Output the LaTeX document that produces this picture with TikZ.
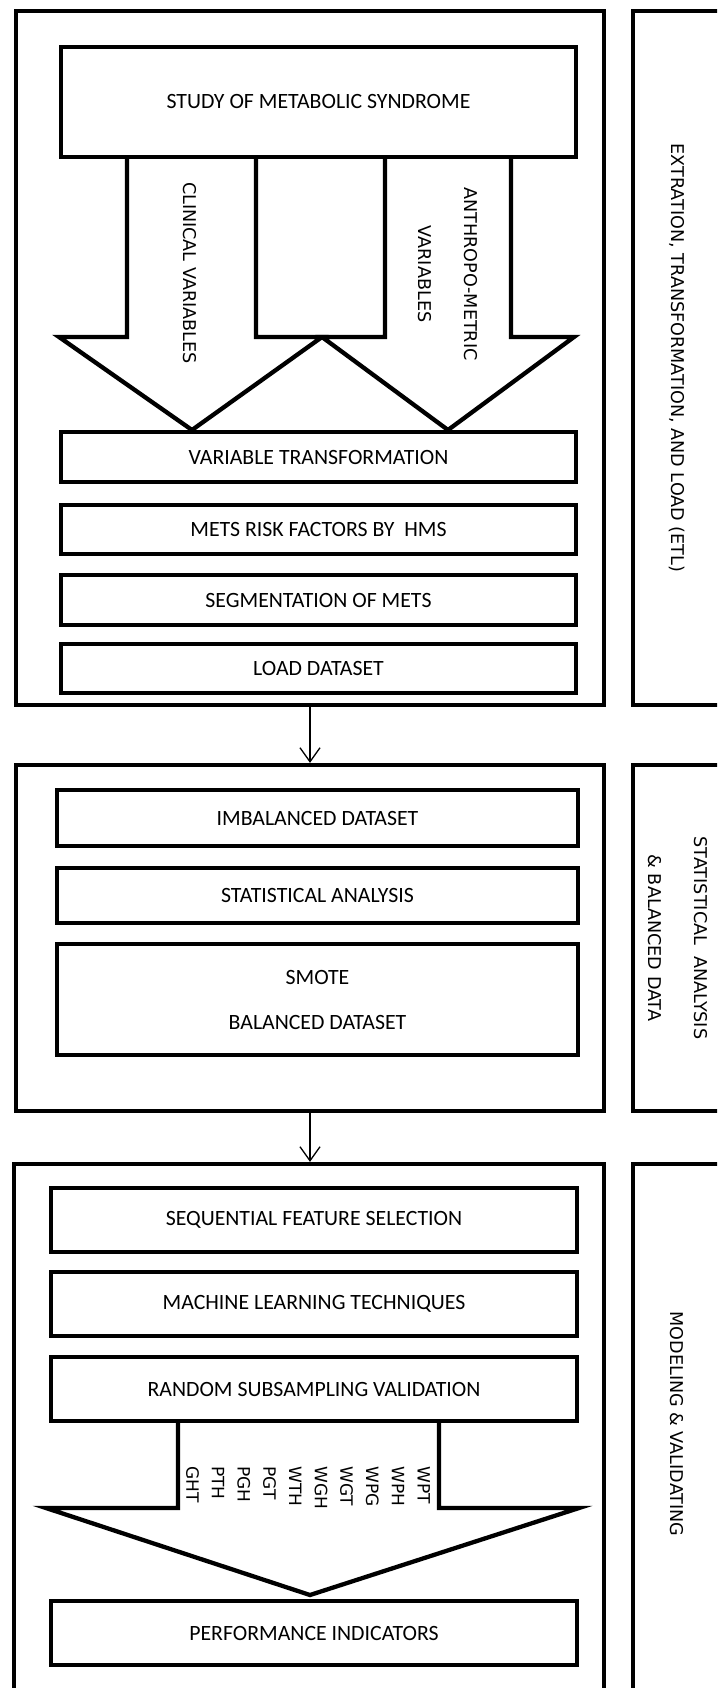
\documentclass[tikz,border=0pt]{standalone}
\usepackage{fontspec}
\setmainfont{Carlito}
\newfontfamily\rotfont{DejaVu Sans}
\usetikzlibrary{arrows.meta}
\begin{document}
\begin{tikzpicture}[x=1pt,y=-1pt,
  frame/.style={draw, line width=4.3pt, fill=white, rectangle, inner sep=0pt},
  stepbox/.style={draw, line width=4.3pt, fill=white, rectangle, inner sep=0pt,
    font=\fontsize{21.8}{26}\selectfont, align=center},
  vlabel/.style={rotate=-90, inner sep=0pt, font=\rotfont\fontsize{17.6}{20}\selectfont, align=center},
  blockarrow/.style={draw, line width=4.3pt, fill=white},
  conn/.style={line width=1.3pt, -{Straight Barb[length=14pt,width=20pt,line width=1.3pt]}}
]
\useasboundingbox (0,0) rectangle (717,1688);
\clip (0,0) rectangle (717,1688);

% ---------- ETL block ----------
\node[frame, minimum width=588pt, minimum height=694pt] (etl) at (310,358) {};
\node[frame, minimum width=130pt, minimum height=694pt] (etlside) at (698,358) {};
\node[vlabel] (etllab) at (677,358) {EXTRATION, TRANSFORMATION, AND LOAD (ETL)};

\filldraw[blockarrow] (127,157) -- (127,337) -- (59,337) -- (192,430) -- (322,337) -- (256,337) -- (256,157);
\filldraw[blockarrow] (385,157) -- (385,337) -- (322,337) -- (448,430) -- (574,337) -- (511,337) -- (511,157);
\node[vlabel] (clin) at (190,273) {CLINICAL VARIABLES};
\node[vlabel] (anthro) at (448,274) {ANTHROPO-METRIC\\[26pt]VARIABLES};

\node[stepbox, minimum width=515pt, minimum height=110pt] (study) at (318.5,102) {STUDY OF METABOLIC SYNDROME};
\node[stepbox, minimum width=515pt, minimum height=50pt] (vt) at (318.5,457) {VARIABLE TRANSFORMATION};
\node[stepbox, minimum width=515pt, minimum height=49pt] (mets) at (318.5,529.5) {METS RISK FACTORS BY\ \ HMS};
\node[stepbox, minimum width=515pt, minimum height=50pt] (seg) at (318.5,600) {SEGMENTATION OF METS};
\node[stepbox, minimum width=515pt, minimum height=49pt] (load) at (318.5,668.5) {LOAD DATASET};

% ---------- Statistical block ----------
\node[frame, minimum width=588pt, minimum height=346pt] (sab) at (310,938) {};
\node[frame, minimum width=130pt, minimum height=346pt] (sabside) at (698,938) {};
\node[vlabel] (sablab) at (678,938) {STATISTICAL\ \ ANALYSIS\\[26pt]\& BALANCED DATA};

\node[stepbox, minimum width=521pt, minimum height=56pt] (imb) at (317.5,818) {IMBALANCED DATASET};
\node[stepbox, minimum width=521pt, minimum height=55pt] (stat) at (317.5,895.5) {STATISTICAL ANALYSIS};
\node[stepbox, minimum width=521pt, minimum height=111pt] (smote) at (317.5,999.5) {SMOTE\\[19pt]BALANCED DATASET};

% ---------- Modeling block ----------
\node[frame, minimum width=590pt, minimum height=556pt] (mv) at (309,1442) {};
\node[frame, minimum width=130pt, minimum height=556pt] (mvside) at (698,1442) {};
\node[vlabel] (mvlab) at (677,1424) {MODELING \& VALIDATING};

\filldraw[blockarrow] (178,1421) -- (178,1508) -- (46,1508) -- (310,1595) -- (579,1508) -- (439,1508) -- (439,1421);
\node[vlabel, align=left, anchor=west, font=\rotfont\fontsize{17}{25.7}\selectfont] (codes) at (308,1466)
  {WPT\\WPH\\WPG\\WGT\\WGH\\WTH\\PGT\\PGH\\PTH\\GHT};

\node[stepbox, minimum width=526pt, minimum height=64pt] (sfs) at (314,1220) {SEQUENTIAL FEATURE SELECTION};
\node[stepbox, minimum width=526pt, minimum height=64pt] (ml) at (314,1304) {MACHINE LEARNING TECHNIQUES};
\node[stepbox, minimum width=526pt, minimum height=64pt] (rsv) at (314,1389) {RANDOM SUBSAMPLING VALIDATION};
\node[stepbox, minimum width=526pt, minimum height=64pt] (perf) at (314,1633) {PERFORMANCE INDICATORS};

% ---------- connectors ----------
\draw[conn] (etl.south) -- (sab.north);
\draw[conn] (sab.south) -- (sab.south |- mv.north);
\end{tikzpicture}
\end{document}
